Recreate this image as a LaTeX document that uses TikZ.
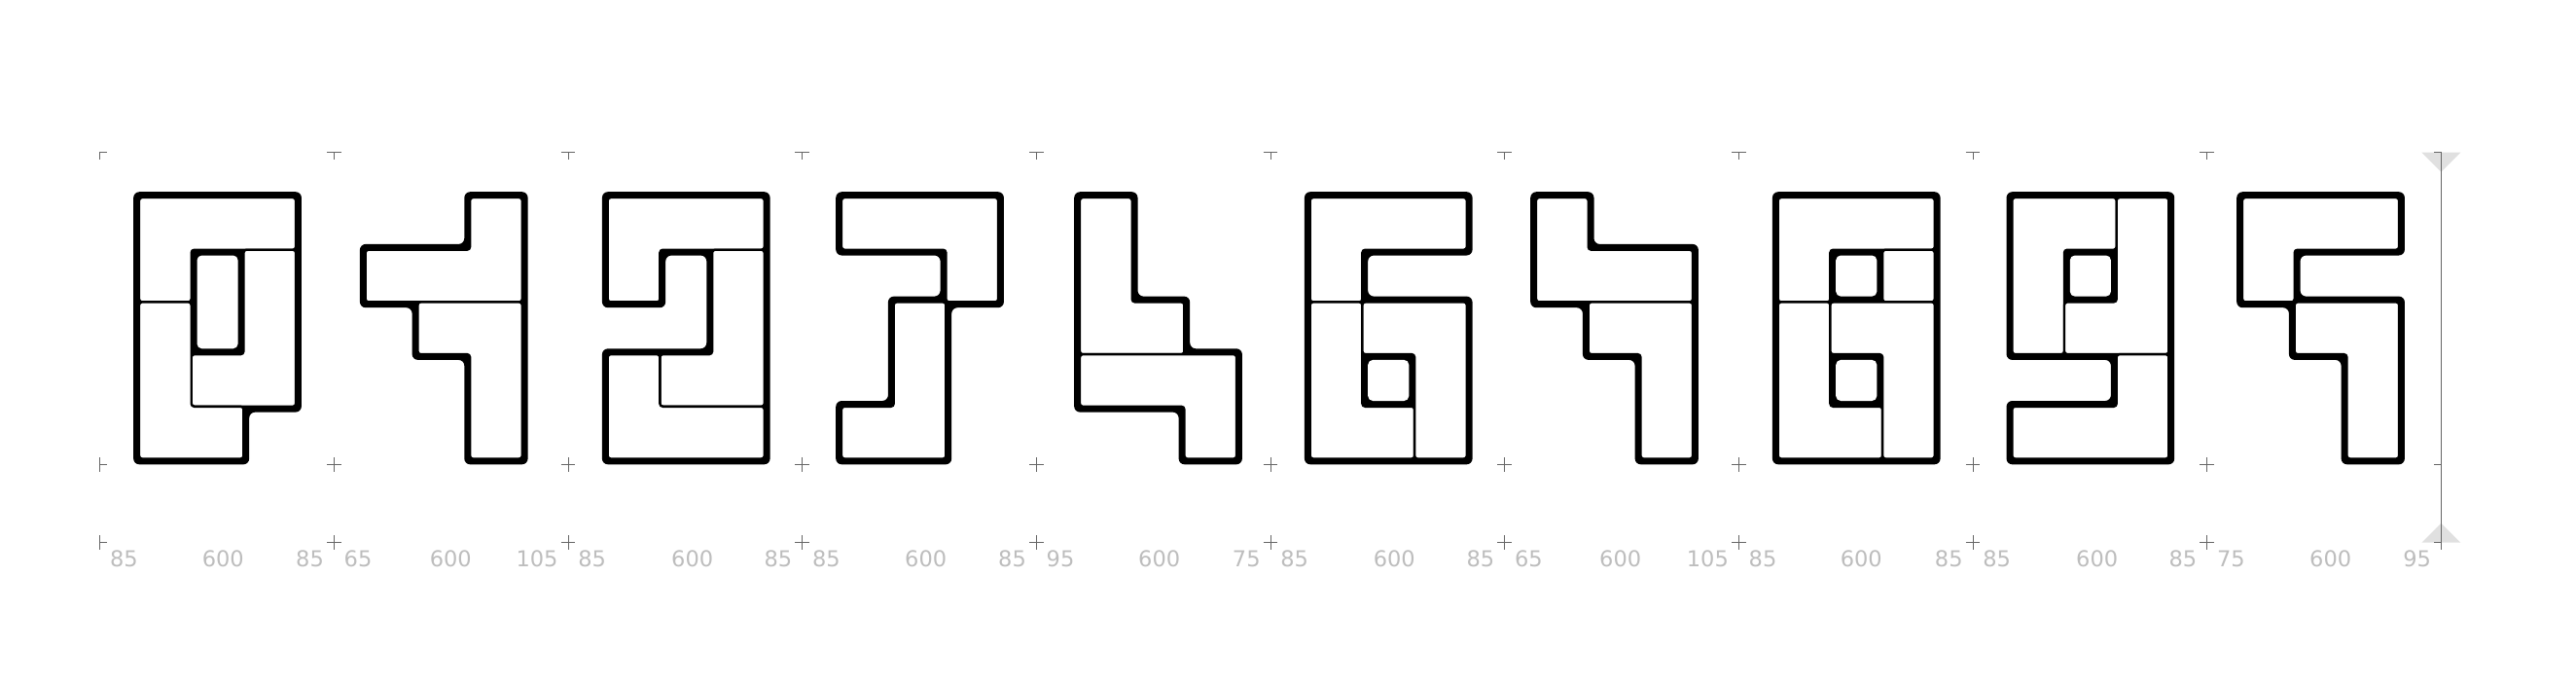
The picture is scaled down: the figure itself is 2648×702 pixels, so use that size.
\documentclass[tikz,border=0pt]{standalone}
\usepackage{fontspec}
\usepackage{xcolor}
\usepackage{tikz}
\newfontfamily\metricfont{DejaVu Sans}
\definecolor{tickgray}{HTML}{666666}
\definecolor{metricgray}{HTML}{BDBDBD}
\definecolor{pointergray}{HTML}{E0E0E0}
\newcommand{\gp}{0.108}

\begin{document}
\begin{tikzpicture}[
        x=0.01cm, y=-0.01cm,
        digit/.style = {x=0.5367cm, y=-0.5367cm},
        body/.style = {fill=black, rounded corners=0.06cm},
        tile/.style = {fill=white, draw=black, line width=0.024cm, rounded corners=0.03cm},
        hole/.style = {fill=white, rounded corners=0.05cm},
        tick/.style = {draw=tickgray, line width=0.01cm},
        metric/.style = {font=\metricfont\fontsize{6.4}{7}\selectfont, text=metricgray, inner sep=0pt}
    ]
        \useasboundingbox (0,0) rectangle (2648,702);

        % Pointers on the right
        \fill [pointergray] (2489.3,156.7) -- (2529.3,156.7) -- (2509.3,176.7) -- cycle;
        \fill [pointergray] (2489.3,557.7) -- (2529.3,557.7) -- (2509.3,537.7) -- cycle;

        % Ticks
        \foreach \tx in {343.4,584.0,824.7,1065.4,1306.0,1546.7,1787.4,2028.0,2268.7} {
            \draw [tick] (\tx-7.3,156.7) -- (\tx+7.3,156.7) (\tx,156.7) -- (\tx,164);
            \draw [tick] (\tx-7.3,477.3) -- (\tx+7.3,477.3) (\tx,470) -- (\tx,484.6);
            \draw [tick] (\tx-7.3,557.7) -- (\tx+7.3,557.7) (\tx,550.4) -- (\tx,565);
        }
        \draw [tick] (110,156.7) -- (102.7,156.7) -- (102.7,164);
        \draw [tick] (110,477.3) -- (102.7,477.3) (102.7,470) -- (102.7,484.6);
        \draw [tick] (110,557.7) -- (102.7,557.7) (102.7,550.4) -- (102.7,565);
        \draw [tick] (2502,156.7) -- (2509.3,156.7) -- (2509.3,565);
        \draw [tick] (2502,477.3) -- (2509.3,477.3);
        \draw [tick] (2502,557.7) -- (2509.3,557.7);

        % Metrics
        \foreach \i/\tx/\mx/\lsb/\rsb in {0/102.7/229.3/85/85, 1/343.4/463.3/65/105, 2/584.0/711.7/85/85,
                3/824.7/951.7/85/85, 4/1065.4/1191.7/95/75, 5/1306.0/1433.3/85/85, 6/1546.7/1665.7/65/105,
                7/1787.4/1913.3/85/85, 8/2028.0/2155.7/85/85, 9/2268.7/2395.7/75/95} {
            \node (lsb\i) [metric, anchor=base west] at (\tx+9.6,582) {\lsb};
            \node (adv\i) [metric, anchor=base] at (\mx,582) {600};
            \node (rsb\i) [metric, anchor=base east] at (\tx+240.67-9.8,582) {\rsb};
        }

        % Digit 0
        \begin{scope}[shift={(143,203)}, digit]
            \fill [body] (-\gp,-\gp) -- (3+\gp,-\gp) -- (3+\gp,4+\gp) -- (2+\gp,4+\gp) -- (2+\gp,5+\gp) -- (-\gp,5+\gp) -- cycle;
            \draw [tile] (0,0) -- (3,0) -- (3,1) -- (1,1) -- (1,2) -- (0,2) -- cycle;
            \draw [tile] (2,1) -- (3,1) -- (3,4) -- (1,4) -- (1,3) -- (2,3) -- cycle;
            \draw [tile] (0,2) -- (1,2) -- (1,4) -- (2,4) -- (2,5) -- (0,5) -- cycle;
            \fill [hole] (1+\gp,1+\gp) rectangle (2-\gp,3-\gp);
        \end{scope}

        % Digit 1
        \begin{scope}[shift={(375.7,203)}, digit]
            \fill [body] (2-\gp,-\gp) -- (3+\gp,-\gp) -- (3+\gp,5+\gp) -- (2-\gp,5+\gp) -- (2-\gp,3+\gp) -- (1-\gp,3+\gp) -- (1-\gp,2+\gp) -- (-\gp,2+\gp) -- (-\gp,1-\gp) -- (2-\gp,1-\gp) -- cycle;
            \draw [tile] (2,0) -- (3,0) -- (3,2) -- (0,2) -- (0,1) -- (2,1) -- cycle;
            \draw [tile] (1,2) -- (3,2) -- (3,5) -- (2,5) -- (2,3) -- (1,3) -- cycle;
        \end{scope}

        % Digit 2
        \begin{scope}[shift={(624.7,203)}, digit]
            \fill [body] (-\gp,-\gp) -- (3+\gp,-\gp) -- (3+\gp,5+\gp) -- (-\gp,5+\gp) -- (-\gp,3-\gp) -- (2-\gp,3-\gp) -- (2-\gp,1+\gp) -- (1+\gp,1+\gp) -- (1+\gp,2+\gp) -- (-\gp,2+\gp) -- cycle;
            \draw [tile] (0,0) -- (3,0) -- (3,1) -- (1,1) -- (1,2) -- (0,2) -- cycle;
            \draw [tile] (2,1) -- (3,1) -- (3,4) -- (1,4) -- (1,3) -- (2,3) -- cycle;
            \draw [tile] (0,3) -- (1,3) -- (1,4) -- (3,4) -- (3,5) -- (0,5) -- cycle;
        \end{scope}

        % Digit 3
        \begin{scope}[shift={(865,203)}, digit]
            \fill [body] (-\gp,-\gp) -- (3+\gp,-\gp) -- (3+\gp,2+\gp) -- (2+\gp,2+\gp) -- (2+\gp,5+\gp) -- (-\gp,5+\gp) -- (-\gp,4-\gp) -- (1-\gp,4-\gp) -- (1-\gp,2-\gp) -- (2-\gp,2-\gp) -- (2-\gp,1+\gp) -- (-\gp,1+\gp) -- cycle;
            \draw [tile] (0,0) -- (3,0) -- (3,2) -- (2,2) -- (2,1) -- (0,1) -- cycle;
            \draw [tile] (1,2) -- (2,2) -- (2,5) -- (0,5) -- (0,4) -- (1,4) -- cycle;
        \end{scope}

        % Digit 4
        \begin{scope}[shift={(1110,203)}, digit]
            \fill [body] (-\gp,-\gp) -- (1+\gp,-\gp) -- (1+\gp,2-\gp) -- (2+\gp,2-\gp) -- (2+\gp,3-\gp) -- (3+\gp,3-\gp) -- (3+\gp,5+\gp) -- (2-\gp,5+\gp) -- (2-\gp,4+\gp) -- (-\gp,4+\gp) -- cycle;
            \draw [tile] (0,0) -- (1,0) -- (1,2) -- (2,2) -- (2,3) -- (0,3) -- cycle;
            \draw [tile] (0,3) -- (3,3) -- (3,5) -- (2,5) -- (2,4) -- (0,4) -- cycle;
        \end{scope}

        % Digit 5
        \begin{scope}[shift={(1346.7,203)}, digit]
            \fill [body] (-\gp,-\gp) -- (3+\gp,-\gp) -- (3+\gp,1+\gp) -- (1+\gp,1+\gp) -- (1+\gp,2-\gp) -- (3+\gp,2-\gp) -- (3+\gp,5+\gp) -- (-\gp,5+\gp) -- cycle;
            \draw [tile] (0,0) -- (3,0) -- (3,1) -- (1,1) -- (1,2) -- (0,2) -- cycle;
            \draw [tile] (0,2) -- (1,2) -- (1,4) -- (2,4) -- (2,5) -- (0,5) -- cycle;
            \draw [tile] (1,2) -- (3,2) -- (3,5) -- (2,5) -- (2,3) -- (1,3) -- cycle;
            \fill [hole] (1+\gp,3+\gp) rectangle (2-\gp,4-\gp);
        \end{scope}

        % Digit 6
        \begin{scope}[shift={(1579,203)}, digit]
            \fill [body] (-\gp,-\gp) -- (1+\gp,-\gp) -- (1+\gp,1-\gp) -- (3+\gp,1-\gp) -- (3+\gp,5+\gp) -- (2-\gp,5+\gp) -- (2-\gp,3+\gp) -- (1-\gp,3+\gp) -- (1-\gp,2+\gp) -- (-\gp,2+\gp) -- cycle;
            \draw [tile] (0,0) -- (1,0) -- (1,1) -- (3,1) -- (3,2) -- (0,2) -- cycle;
            \draw [tile] (1,2) -- (3,2) -- (3,5) -- (2,5) -- (2,3) -- (1,3) -- cycle;
        \end{scope}

        % Digit 7
        \begin{scope}[shift={(1827.7,203)}, digit]
            \fill [body] (-\gp,-\gp) rectangle (3+\gp,5+\gp);
            \draw [tile] (0,0) -- (3,0) -- (3,1) -- (1,1) -- (1,2) -- (0,2) -- cycle;
            \draw [tile] (2,1) -- (3,1) -- (3,2) -- (2,2) -- cycle;
            \draw [tile] (0,2) -- (1,2) -- (1,4) -- (2,4) -- (2,5) -- (0,5) -- cycle;
            \draw [tile] (1,2) -- (3,2) -- (3,5) -- (2,5) -- (2,3) -- (1,3) -- cycle;
            \fill [hole] (1+\gp,1+\gp) rectangle (2-\gp,2-\gp);
            \fill [hole] (1+\gp,3+\gp) rectangle (2-\gp,4-\gp);
        \end{scope}

        % Digit 8
        \begin{scope}[shift={(2068.3,203)}, digit]
            \fill [body] (-\gp,-\gp) -- (3+\gp,-\gp) -- (3+\gp,5+\gp) -- (-\gp,5+\gp) -- (-\gp,4-\gp) -- (2-\gp,4-\gp) -- (2-\gp,3+\gp) -- (-\gp,3+\gp) -- cycle;
            \draw [tile] (0,0) -- (2,0) -- (2,1) -- (1,1) -- (1,3) -- (0,3) -- cycle;
            \draw [tile] (2,0) -- (3,0) -- (3,3) -- (1,3) -- (1,2) -- (2,2) -- cycle;
            \draw [tile] (2,3) -- (3,3) -- (3,5) -- (0,5) -- (0,4) -- (2,4) -- cycle;
            \fill [hole] (1+\gp,1+\gp) rectangle (2-\gp,2-\gp);
        \end{scope}

        % Digit 9
        \begin{scope}[shift={(2305,203)}, digit]
            \fill [body] (-\gp,-\gp) -- (3+\gp,-\gp) -- (3+\gp,1+\gp) -- (1+\gp,1+\gp) -- (1+\gp,2-\gp) -- (3+\gp,2-\gp) -- (3+\gp,5+\gp) -- (2-\gp,5+\gp) -- (2-\gp,3+\gp) -- (1-\gp,3+\gp) -- (1-\gp,2+\gp) -- (-\gp,2+\gp) -- cycle;
            \draw [tile] (0,0) -- (3,0) -- (3,1) -- (1,1) -- (1,2) -- (0,2) -- cycle;
            \draw [tile] (1,2) -- (3,2) -- (3,5) -- (2,5) -- (2,3) -- (1,3) -- cycle;
        \end{scope}
\end{tikzpicture}
\end{document}
